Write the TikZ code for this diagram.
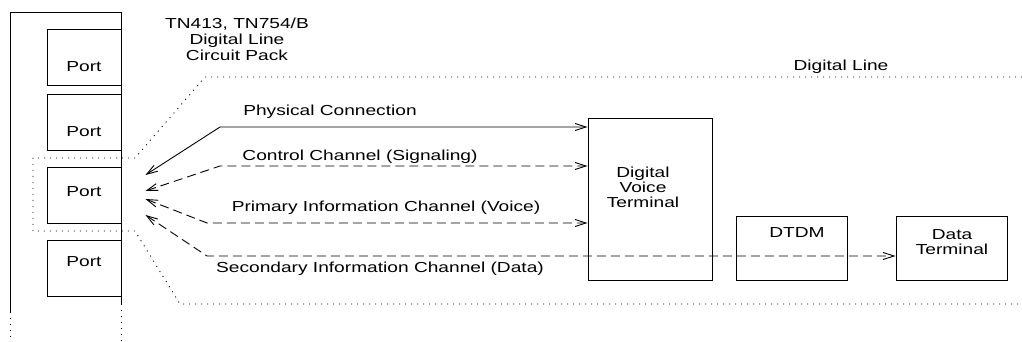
\documentclass[tikz,border=0pt]{standalone}
\usepackage{fontspec}
\setmainfont{Liberation Sans}[FakeStretch=1.32]
\usetikzlibrary{arrows.meta, positioning}

\tikzset{
  box/.style={draw, line width=0.9pt, inner sep=0pt},
  portbox/.style={box, minimum width=74, minimum height=56},
  lbl/.style={font=\fontsize{14.5}{15}\selectfont, inner sep=0pt, align=center},
  chan/.style={line width=0.9pt, {Straight Barb[length=11pt,width=7pt]}-{Straight Barb[length=11pt,width=7pt]}},
  dashchan/.style={chan, dash pattern=on 9pt off 5pt},
  dotline/.style={line width=0.9pt, dash pattern=on 1pt off 5pt},
}

\begin{document}
\begin{tikzpicture}[x=1pt, y=-1pt]
\useasboundingbox (0,0) rectangle (1022,342);

% --- Circuit pack with ports ---
\draw[line width=0.9pt] (10,312) -- (10,12) -- (121,12) -- (121,304);
\draw[dotline] (10,312) -- (10,342);
\draw[dotline] (121,304) -- (121,342);
\foreach \n/\y/\t in {1/57/67, 2/122/132, 3/195/192, 4/268/262} {
  \node[portbox] (port\n) at (84,\y) {};
  \node[lbl] (portlbl\n) at (84,\t) {Port};
}
\node[lbl, font=\fontsize{14.5}{16}\selectfont] (packlbl) at (237,39) {TN413, TN754/B\\Digital Line\\Circuit Pack};

% --- Digital line boundary ---
\draw[dotline] (1022,77) -- (205,77) -- (135,158) -- (33,158) -- (33,231)
  -- (135,231) -- (180,304) -- (1022,304);
\node[lbl] (linelbl) at (841,67) {Digital Line};

% --- Terminals ---
\node[box, minimum width=124, minimum height=162] (dvt) at (650,199) {};
\node[lbl] (dvtlbl) at (643,187) {Digital\\Voice\\Terminal};
\node[box, minimum width=111, minimum height=64] (dtdm) at (791.5,248) {};
\node[lbl] (dtdmlbl) at (797,233) {DTDM};
\node[box, minimum width=111, minimum height=64] (dterm) at (951.5,248) {};
\node[lbl] (dtermlbl) at (952,242) {Data\\Terminal};

% --- Channels ---
\coordinate (tipA) at ([shift={(24,-20)}]port3.east);
\coordinate (tipB) at ([shift={(24,-4)}]port3.east);
\coordinate (tipC) at ([shift={(24,4)}]port3.east);
\coordinate (tipD) at ([shift={(24,20)}]port3.east);
\coordinate (bendA) at (220,127);
\coordinate (bendB) at (220,166);
\coordinate (bendC) at (207,223);
\coordinate (bendD) at (207,256);

\draw[chan] (tipA) -- (bendA) -- (bendA -| dvt.west);
\draw[dashchan] (tipB) -- (bendB) -- (bendB -| dvt.west);
\draw[dashchan] (tipC) -- (bendC) -- (bendC -| dvt.west);
\draw[dashchan] (tipD) -- (bendD) -- (bendD -| dterm.west);

\node[lbl] (physlbl) at (330,112) {Physical Connection};
\node[lbl] (ctrllbl) at (360,157) {Control Channel (Signaling)};
\node[lbl] (primlbl) at (386,208) {Primary Information Channel (Voice)};
\node[lbl] (seclbl) at (380,269) {Secondary Information Channel (Data)};

\end{tikzpicture}
\end{document}
